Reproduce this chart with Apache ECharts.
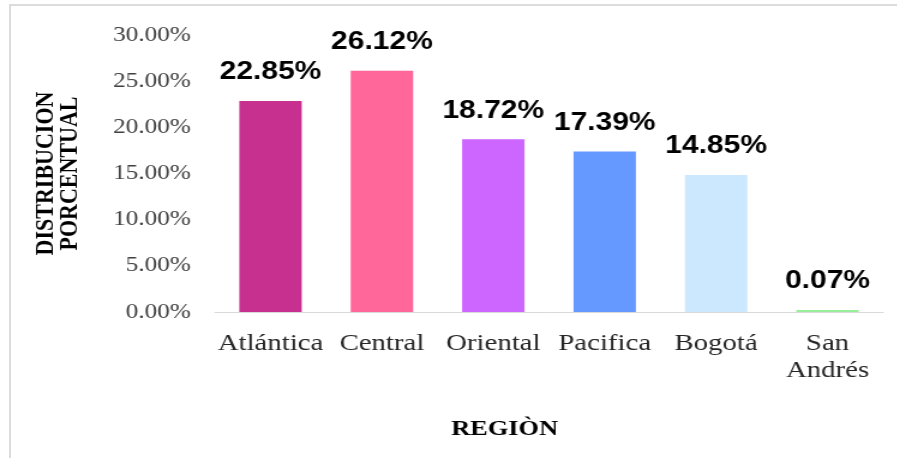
<!DOCTYPE html>
<html>
<head>
<meta charset="utf-8">
<script src="https://cdn.jsdelivr.net/npm/echarts@6/dist/echarts.min.js"></script>
<style>
  html, body { margin: 0; padding: 0; background: #fff; overflow: hidden; }
  #frame { position: absolute; left: 9px; top: 4px; width: 900px; height: 460px;
           border-left: 2px solid #dcdcdc; border-top: 2px solid #dcdcdc; pointer-events: none; }
  /* the source picture is stretched sideways, so the chart is too */
  #chart { position: absolute; left: 0; top: 0; width: 747.5px; height: 458px;
           transform: scaleX(1.2); transform-origin: 0 0; }
</style>
</head>
<body>
<div id="chart"></div>
<div id="frame"></div>
<script>
const regions = ["Atlántica", "Central", "Oriental", "Pacifica", "Bogotá", "San\nAndrés"];
const shares = [22.85, 26.12, 18.72, 17.39, 14.85, 0.07];
const barColors = ["#c8308f", "#ff6699", "#cc66ff", "#6699ff", "#cce8ff", "#99ee99"];
const yTicks = { min: 0, max: 30, step: 5 };

const serif = "'Liberation Serif', 'Times New Roman', serif";

const chart = echarts.init(document.getElementById("chart"));

chart.setOption({
    animation: false,
    grid: { left: 179, right: 12, top: 35, bottom: 146 },
    xAxis: {
        type: "category",
        data: regions,
        name: "REGIÒN",
        nameLocation: "middle",
        nameGap: 106,
        nameTextStyle: {
            fontFamily: serif, fontSize: 22, fontWeight: "bold", color: "#000",
            padding: [0, 74, 0, 0]
        },
        axisLine: { lineStyle: { color: "#d9d9d9", width: 1 } },
        axisTick: { show: false },
        axisLabel: {
            interval: 0,
            margin: 18,
            fontFamily: serif,
            fontSize: 24,
            lineHeight: 27,
            color: "#262626"
        }
    },
    yAxis: {
        type: "value",
        min: yTicks.min,
        max: yTicks.max,
        interval: yTicks.step,
        name: "DISTRIBUCION\nPORCENTUAL",
        nameLocation: "middle",
        nameGap: 111,
        nameTextStyle: { fontFamily: serif, fontSize: 22, fontWeight: "bold", color: "#000", lineHeight: 20 },
        axisLine: { show: false },
        axisTick: { show: false },
        splitLine: { show: false },
        axisLabel: {
            margin: 20,
            fontFamily: serif,
            fontSize: 21,
            color: "#404040",
            formatter: v => v.toFixed(2) + "%"
        }
    },
    series: [{
        type: "bar",
        data: shares.map((v, i) => ({ value: v, itemStyle: { color: barColors[i] } })),
        barWidth: 52,
        barMinHeight: 2,
        label: {
            show: true,
            position: "top",
            distance: 16,
            fontFamily: "'Liberation Sans', Arial, sans-serif",
            fontWeight: "bold",
            fontSize: 25,
            color: "#000",
            formatter: p => p.value.toFixed(2) + "%"
        }
    }]
});
</script>
</body>
</html>
